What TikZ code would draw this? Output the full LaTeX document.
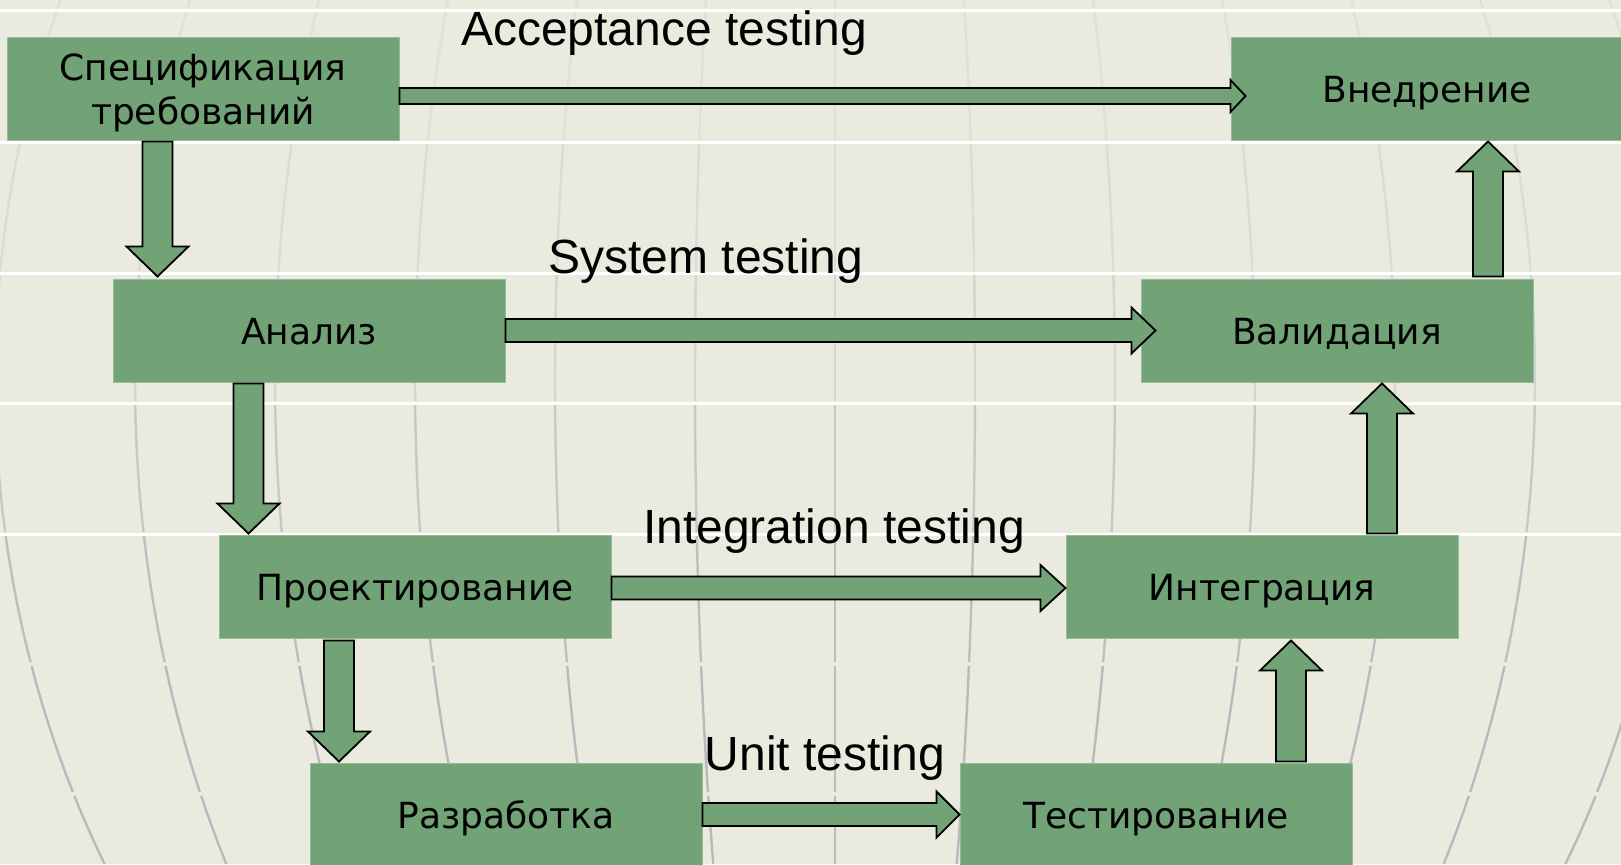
\documentclass[tikz,border=0pt]{standalone}
\usepackage{fontspec}
\newfontfamily\boxfont{DejaVu Sans}
\newfontfamily\labelfont{Liberation Sans}
\usetikzlibrary{calc}

\definecolor{bgbeige}{HTML}{EAEADF}
\definecolor{boxgreen}{HTML}{71A377}
\definecolor{boxedge}{HTML}{93BC98}
\definecolor{meridian}{HTML}{B9B9BE}

% block arrow from #1 to tip #2; shaft half width #3, head half width #4, head length #5
\newcommand\stagearrow[5]{%
  \coordinate (ba-s) at (#1);
  \coordinate (ba-t) at (#2);
  \coordinate (ba-h) at ($(ba-t)!#5!(ba-s)$);
  \draw[blockarrow] ($(ba-s)!#3!90:(ba-t)$) -- ($(ba-h)!#3!-90:(ba-s)$)
    -- ($(ba-h)!#4!-90:(ba-s)$) -- (ba-t) -- ($(ba-h)!#4!90:(ba-s)$)
    -- ($(ba-h)!#3!90:(ba-s)$) -- ($(ba-s)!#3!-90:(ba-t)$) -- cycle;}

\begin{document}
\begin{tikzpicture}[x=0.5pt, y=-0.5pt,
  stage/.style={rectangle, fill=boxgreen, draw=boxedge, line width=0.5pt,
    minimum width=196pt, minimum height=51.5pt, inner sep=0pt,
    font=\boxfont\fontsize{18pt}{22pt}\selectfont,
    text height=17.5pt, text depth=4pt},
  testlabel/.style={font=\labelfont\fontsize{24pt}{28pt}\selectfont,
    inner sep=0pt, anchor=base},
  blockarrow/.style={fill=boxgreen, draw=black, line width=0.9pt, line join=miter}]

% background
\fill[bgbeige] (0,0) rectangle (1621,864);
\useasboundingbox (0,0) rectangle (1621,864);

% globe meridians, broken into horizontal bands
\foreach \ya/\yb/\pc in {0/8/20, 12/140/20, 144/271/28, 275/401/45,
                         405/532/70, 536/662/90, 666/792/100, 796/864/100} {
  \foreach \n in {-6,...,6} {
    \draw[meridian!\pc!bgbeige, line width=1.2pt]
      plot[domain=\ya:\yb, samples=8, variable=\t]
      ({835+(\n)*140*sqrt(1-((\t-380)/980)^2)}, \t);
  }
}

% white band lines
\foreach \yy in {10,142,273,403,534}
  \draw[white, line width=1.5pt] (0,\yy) -- (1621,\yy);

% stages
\node[stage, align=center, text height=39.5pt, text depth=4pt] (spec) at (203,88.5) {Спецификация\\требований};
\node[stage] (vned)   at (1427,88.5)  {Внедрение};
\node[stage] (anal)   at (309,330.5)  {Анализ};
\node[stage] (valid)  at (1337,330.5) {Валидация};
\node[stage] (proekt) at (415,586.5)  {Проектирование};
\node[stage] (integ)  at (1262,586.5) {Интеграция};
\node[stage] (razr)   at (506,814.5)  {Разработка};
\node[stage] (test)   at (1156,814.5) {Тестирование};

% horizontal test links
\stagearrow{$(spec.east)+(0,7.5)$}{$(vned.west)+(15,7.5)$}{4pt}{8pt}{7.5pt}
\stagearrow{anal.east}{$(valid.west)+(15,0)$}{5.75pt}{11.5pt}{12pt}
\stagearrow{$(proekt.east)+(0,1.5)$}{$(integ.west)+(0,1.5)$}{5.75pt}{11.5pt}{12.5pt}
\stagearrow{razr.east}{test.west}{5.75pt}{11.5pt}{11.5pt}

% descending branch
\coordinate (v1) at ($(spec.south)+(-45.5,1)$);
\stagearrow{v1}{$(anal.north -| v1)+(0,-2)$}{7.5pt}{15.5pt}{15pt}
\coordinate (v2) at ($(anal.south)+(-60.5,1)$);
\stagearrow{v2}{$(proekt.north -| v2)+(0,-1)$}{7.5pt}{15.5pt}{15pt}
\coordinate (v3) at ($(proekt.south)+(-76,2)$);
\stagearrow{v3}{$(razr.north -| v3)+(0,-1)$}{7.5pt}{15.5pt}{15pt}

% ascending branch
\coordinate (u1) at ($(valid.north)+(151,-2)$);
\stagearrow{u1}{$(vned.south -| u1)+(0,1)$}{7.5pt}{15.5pt}{15pt}
\coordinate (u2) at ($(integ.north)+(120,-1)$);
\stagearrow{u2}{$(valid.south -| u2)+(0,1)$}{7.5pt}{15.5pt}{15pt}
\coordinate (u3) at ($(test.north)+(135,-1)$);
\stagearrow{u3}{$(integ.south -| u3)+(0,2)$}{7.5pt}{15.5pt}{15pt}

% test level labels
\node[testlabel] (lab-acc)  at (664,45.5) {Acceptance testing};
\node[testlabel] (lab-sys)  at (706,273)  {System testing};
\node[testlabel] (lab-int)  at (834,543)  {Integration testing};
\node[testlabel] (lab-unit) at (825,770)  {Unit testing};
\end{tikzpicture}
\end{document}
